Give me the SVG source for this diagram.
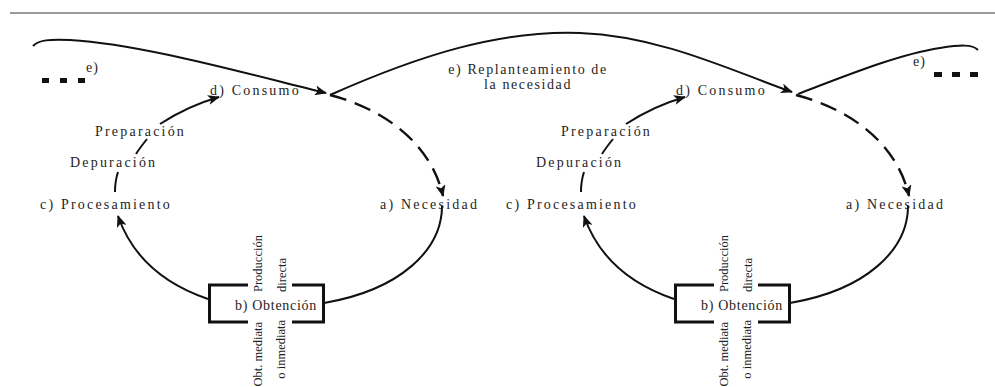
<svg xmlns="http://www.w3.org/2000/svg" width="995" height="387" viewBox="0 0 995 387">
  <style>
    .lbl { font-family: "Liberation Serif", "DejaVu Serif", serif; font-size: 14px; fill: #1e1e1e; letter-spacing: 2.2px; }
    .box-lbl { font-family: "Liberation Serif", "DejaVu Serif", serif; font-size: 14px; fill: #1e1e1e; letter-spacing: 0.7px; }
    .vlbl { font-family: "Liberation Serif", "DejaVu Serif", serif; font-size: 12.5px; fill: #1e1e1e; }
    .ln { fill: none; stroke: #111; stroke-width: 2; }
    .dash { fill: none; stroke: #111; stroke-width: 2.4; stroke-dasharray: 17 9; }
    .frame { fill: none; stroke: #111; stroke-width: 3; }
    .dot { fill: #111; }
  </style>
  <defs>
    <marker id="arrow" markerUnits="userSpaceOnUse" markerWidth="12" markerHeight="10" refX="11" refY="5" orient="auto">
      <path d="M0,0 L12,5 L0,10 L3,5 z" fill="#111"/>
    </marker>
    <!-- one cycle: necesidad -> obtención -> procesamiento -> consumo -->
    <g id="cycle-links">
      <path class="ln" d="M208,299 C170,286 134,262 118,216" marker-end="url(#arrow)"/>
      <path class="ln" d="M118,172 C116,178 115,185 115,192" stroke-width="2.4"/>
      <path class="ln" d="M147,139 C143,144 139,149 136,154" stroke-width="2.4"/>
      <path class="ln" d="M160,124 C180,111 198,103 219,97" marker-end="url(#arrow)"/>
      <path class="dash" d="M330,95 C380,108 430,140 443,196" marker-end="url(#arrow)"/>
      <path class="ln" d="M442,206 C442,250 400,290 324,303"/>
    </g>
  </defs>

  <!-- page rule -->
  <line x1="10" y1="13" x2="995" y2="13" stroke="#777" stroke-width="1.5"/>

  <g id="connectors">
    <use href="#cycle-links"/>
    <use href="#cycle-links" transform="translate(466,0)"/>
    <!-- e) replanteamiento: incoming from previous cycle -->
    <path class="ln" d="M33,46 C38,40 50,39 70,40 C140,44 240,72 326,93" marker-end="url(#arrow)"/>
    <!-- e) replanteamiento: from first consumo to second consumo -->
    <path class="ln" d="M330,95 C420,55 500,30 580,33 C660,36 730,70 792,92" marker-end="url(#arrow)"/>
    <!-- e) replanteamiento: outgoing to next cycle -->
    <path class="ln" d="M798,94 C850,74 900,54 940,48 C960,45 972,44 978,50"/>
  </g>

  <g id="continue-left">
    <rect class="dot" x="42" y="78" width="7" height="5"/>
    <rect class="dot" x="60" y="78" width="7" height="5"/>
    <rect class="dot" x="78" y="78" width="7" height="5"/>
    <text class="lbl" x="86" y="72" style="letter-spacing:1px">e)</text>
  </g>
  <g id="continue-right">
    <rect class="dot" x="934" y="72" width="8" height="5"/>
    <rect class="dot" x="952" y="72" width="8" height="5"/>
    <rect class="dot" x="970" y="72" width="8" height="5"/>
    <text class="lbl" x="913" y="66" style="letter-spacing:1px">e)</text>
  </g>
  <g id="replanteamiento">
    <text class="lbl" x="528" y="74" text-anchor="middle" style="letter-spacing:1.6px">e) Replanteamiento de</text>
    <text class="lbl" x="528" y="89" text-anchor="middle" style="letter-spacing:1.6px">la necesidad</text>
  </g>

  <!-- first cycle -->
  <g id="consumo-1"><text class="lbl" x="210" y="95">d) Consumo</text></g>
  <g id="preparacion-1"><text class="lbl" x="95" y="136">Preparación</text></g>
  <g id="depuracion-1"><text class="lbl" x="70" y="167">Depuración</text></g>
  <g id="procesamiento-1"><text class="lbl" x="40" y="209">c) Procesamiento</text></g>
  <g id="necesidad-1"><text class="lbl" x="380" y="209">a) Necesidad</text></g>
  <g id="obtencion-1">
    <path class="frame" d="M248,285 H209.5 V322 H248 M292,285 H323.5 V322 H292"/>
    <text class="box-lbl" x="276" y="310" text-anchor="middle">b) Obtención</text>
    <text class="vlbl" transform="translate(262,292) rotate(-90)">Producción</text>
    <text class="vlbl" transform="translate(286,292) rotate(-90)">directa</text>
    <text class="vlbl" transform="translate(262,322) rotate(-90)" text-anchor="end">Obt. mediata</text>
    <text class="vlbl" transform="translate(285,320) rotate(-90)" text-anchor="end">o inmediata</text>
  </g>

  <!-- second cycle -->
  <g id="consumo-2"><text class="lbl" x="676" y="95">d) Consumo</text></g>
  <g id="preparacion-2"><text class="lbl" x="561" y="136">Preparación</text></g>
  <g id="depuracion-2"><text class="lbl" x="536" y="167">Depuración</text></g>
  <g id="procesamiento-2"><text class="lbl" x="506" y="209">c) Procesamiento</text></g>
  <g id="necesidad-2"><text class="lbl" x="846" y="209">a) Necesidad</text></g>
  <g id="obtencion-2">
    <path class="frame" d="M714,285 H675.5 V322 H714 M758,285 H789.5 V322 H758"/>
    <text class="box-lbl" x="742" y="310" text-anchor="middle">b) Obtención</text>
    <text class="vlbl" transform="translate(728,292) rotate(-90)">Producción</text>
    <text class="vlbl" transform="translate(752,292) rotate(-90)">directa</text>
    <text class="vlbl" transform="translate(728,322) rotate(-90)" text-anchor="end">Obt. mediata</text>
    <text class="vlbl" transform="translate(751,320) rotate(-90)" text-anchor="end">o inmediata</text>
  </g>
</svg>
